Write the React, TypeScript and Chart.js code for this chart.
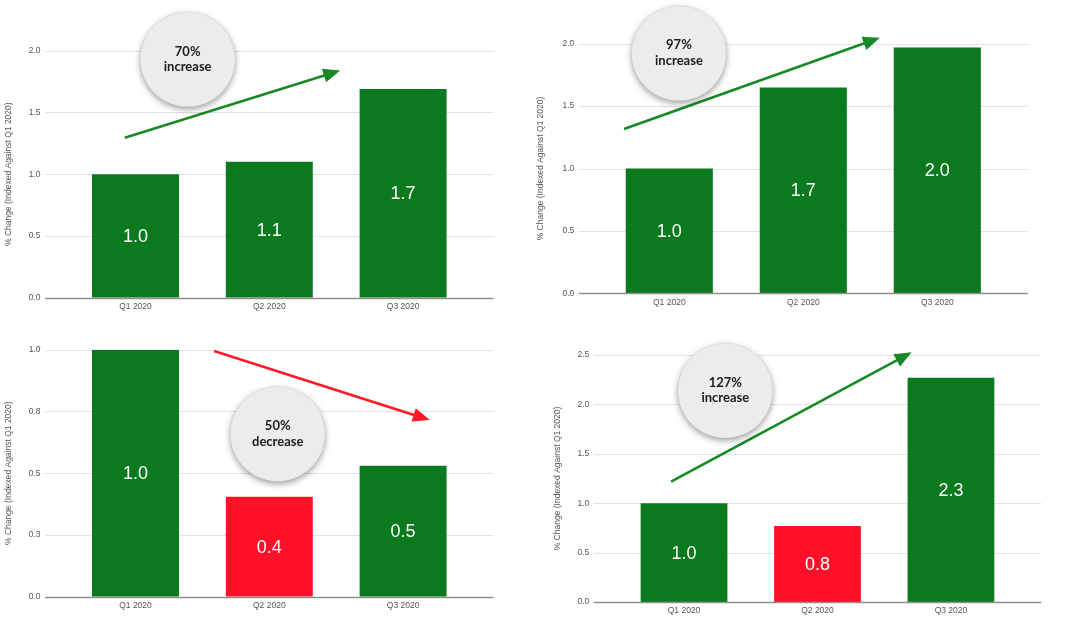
import React, { useEffect, useRef } from 'react';
import { Chart, registerables } from 'chart.js';

Chart.register(...registerables);

// ---------- data ----------
const categories = ['Q1 2020', 'Q2 2020', 'Q3 2020'];

const topLeftValues = [1.0, 1.1, 1.69];
const topLeftLabels = ['1.0', '1.1', '1.7'];
const topLeftTrend = ['up', 'up', 'up'];
const topLeftTicks = [0, 0.5, 1.0, 1.5, 2.0];
const topLeftTickLabels = ['0.0', '0.5', '1.0', '1.5', '2.0'];

const topRightValues = [1.0, 1.65, 1.97];
const topRightLabels = ['1.0', '1.7', '2.0'];
const topRightTrend = ['up', 'up', 'up'];
const topRightTicks = [0, 0.5, 1.0, 1.5, 2.0];
const topRightTickLabels = ['0.0', '0.5', '1.0', '1.5', '2.0'];

const bottomLeftValues = [1.0, 0.405, 0.53];
const bottomLeftLabels = ['1.0', '0.4', '0.5'];
const bottomLeftTrend = ['up', 'down', 'up'];
const bottomLeftTicks = [0, 0.25, 0.5, 0.75, 1.0];
const bottomLeftTickLabels = ['0.0', '0.3', '0.5', '0.8', '1.0'];

const bottomRightValues = [1.0, 0.77, 2.27];
const bottomRightLabels = ['1.0', '0.8', '2.3'];
const bottomRightTrend = ['up', 'down', 'up'];
const bottomRightTicks = [0, 0.5, 1.0, 1.5, 2.0, 2.5];
const bottomRightTickLabels = ['0.0', '0.5', '1.0', '1.5', '2.0', '2.5'];

const axisTitle = '% Change (Indexed Against Q1 2020)';

// ---------- styles ----------
const FONT = '"Liberation Sans", Arial, sans-serif';
const BUBBLE_FONT = 'Lato, "Open Sans", sans-serif';
const GREEN = '#0b7a1f';
const RED = '#ff1029';
const ARROW_GREEN = '#178a26';
const ARROW_RED = '#ff1a2a';
const TICK_COLOR = '#555555';
const CANVAS_W = 540;
const CANVAS_H = 345;

type Panel = {
  values: number[];
  labels: string[];
  trend: string[];
  ticks: number[];
  tickLabels: string[];
  max: number;
  arrow: { from: [number, number]; to: [number, number]; color: string };
  bubble: { at: [number, number]; lines: string[] };
  box: { left: number; top: number };
  area: { top: number; bottom: number; right: number };
  yWidth: number;
};

const panels: Panel[] = [
  {
    values: topLeftValues, labels: topLeftLabels, trend: topLeftTrend,
    ticks: topLeftTicks, tickLabels: topLeftTickLabels, max: 2.0,
    arrow: { from: [-0.08, 1.296], to: [1.53, 1.84], color: ARROW_GREEN },
    bubble: { at: [0.39, 1.93], lines: ['70%', 'increase'] },
    box: { left: 0, top: 0 },
    area: { top: 50.7, bottom: 297.7, right: 470 },
    yWidth: 68.6,
  },
  {
    values: topRightValues, labels: topRightLabels, trend: topRightTrend,
    ticks: topRightTicks, tickLabels: topRightTickLabels, max: 2.0,
    arrow: { from: [-0.338, 1.317], to: [1.572, 2.048], color: ARROW_GREEN },
    bubble: { at: [0.072, 1.923], lines: ['97%', 'increase'] },
    box: { left: 532, top: 0 },
    area: { top: 43.7, bottom: 293.3, right: 472.3 },
    yWidth: 70.3,
  },
  {
    values: bottomLeftValues, labels: bottomLeftLabels, trend: bottomLeftTrend,
    ticks: bottomLeftTicks, tickLabels: bottomLeftTickLabels, max: 1.0,
    arrow: { from: [0.587, 0.995], to: [2.2, 0.715], color: ARROW_RED },
    bubble: { at: [1.063, 0.659], lines: ['50%', 'decrease'] },
    box: { left: 0, top: 315 },
    area: { top: 34.7, bottom: 281.7, right: 470 },
    yWidth: 68.6,
  },
  {
    values: bottomRightValues, labels: bottomRightLabels, trend: bottomRightTrend,
    ticks: bottomRightTicks, tickLabels: bottomRightTickLabels, max: 2.5,
    arrow: { from: [-0.097, 1.218], to: [1.706, 2.527], color: ARROW_GREEN },
    bubble: { at: [0.309, 2.139], lines: ['127%', 'increase'] },
    box: { left: 549, top: 315 },
    area: { top: 40, bottom: 287, right: 468.7 },
    yWidth: 68.3,
  },
];

const X_AXIS_H = 14;

const decorPlugin = {
  id: 'decor',
  beforeDatasetsDraw(chart: any) {
    const { ctx, chartArea, scales } = chart;
    const y = scales.y;
    const ext = 23.5;
    ctx.save();
    y.ticks.forEach((t: any) => {
      if (t.value === 0) return;
      const py = Math.round(y.getPixelForValue(t.value)) + 0.5;
      ctx.beginPath();
      ctx.strokeStyle = '#e2e2e2';
      ctx.lineWidth = 1;
      ctx.moveTo(chartArea.left - ext, py);
      ctx.lineTo(chartArea.right + ext, py);
      ctx.stroke();
    });
    ctx.restore();
  },
  afterDatasetsDraw(chart: any, _args: any, opts: any) {
    const p: Panel = opts.panel;
    if (!p) return;
    const { ctx, chartArea, scales } = chart;
    const xs = scales.x;
    const ys = scales.y;
    const ext = 23.5;
    ctx.save();
    // zero baseline
    const py0 = Math.round(ys.getPixelForValue(0)) + 0.5;
    ctx.beginPath();
    ctx.strokeStyle = '#8f8f8f';
    ctx.lineWidth = 1.5;
    ctx.moveTo(chartArea.left - ext, py0);
    ctx.lineTo(chartArea.right + ext, py0);
    ctx.stroke();

    // value labels
    const meta = chart.getDatasetMeta(0);
    ctx.fillStyle = '#ffffff';
    ctx.font = `18px ${FONT}`;
    ctx.textAlign = 'center';
    ctx.textBaseline = 'middle';
    meta.data.forEach((bar: any, i: number) => {
      const { x, y, base } = bar.getProps(['x', 'y', 'base'], true);
      ctx.fillText(p.labels[i], x, (y + base) / 2 + 1);
    });

    const px = (v: number) => {
      const a = xs.getPixelForValue(0);
      const b = xs.getPixelForValue(1);
      return a + (b - a) * v;
    };

    // arrow
    const x1 = px(p.arrow.from[0]);
    const y1 = ys.getPixelForValue(p.arrow.from[1]);
    const x2 = px(p.arrow.to[0]);
    const y2 = ys.getPixelForValue(p.arrow.to[1]);
    const ang = Math.atan2(y2 - y1, x2 - x1);
    const headLen = 17;
    const headHalf = 7;
    const bx = x2 - Math.cos(ang) * headLen;
    const by = y2 - Math.sin(ang) * headLen;
    ctx.strokeStyle = p.arrow.color;
    ctx.fillStyle = p.arrow.color;
    ctx.lineWidth = 2.6;
    ctx.lineCap = 'butt';
    ctx.beginPath();
    ctx.moveTo(x1, y1);
    ctx.lineTo(bx + Math.cos(ang) * 2, by + Math.sin(ang) * 2);
    ctx.stroke();
    ctx.beginPath();
    ctx.moveTo(x2, y2);
    ctx.lineTo(bx + Math.sin(ang) * headHalf, by - Math.cos(ang) * headHalf);
    ctx.lineTo(bx - Math.sin(ang) * headHalf, by + Math.cos(ang) * headHalf);
    ctx.closePath();
    ctx.fill();

    // bubble
    const cx = px(p.bubble.at[0]);
    const cy = ys.getPixelForValue(p.bubble.at[1]);
    const r = 47.5;
    ctx.save();
    ctx.shadowColor = 'rgba(0,0,0,0.38)';
    ctx.shadowBlur = 6;
    ctx.shadowOffsetY = 2.5;
    ctx.beginPath();
    ctx.arc(cx, cy, r, 0, Math.PI * 2);
    ctx.fillStyle = '#ececec';
    ctx.fill();
    ctx.restore();
    ctx.beginPath();
    ctx.arc(cx, cy, r, 0, Math.PI * 2);
    ctx.strokeStyle = 'rgba(0,0,0,0.06)';
    ctx.lineWidth = 1;
    ctx.stroke();
    ctx.fillStyle = '#1c1c1c';
    ctx.font = `bold 13px ${BUBBLE_FONT}`;
    ctx.textAlign = 'center';
    ctx.textBaseline = 'middle';
    ctx.fillText(p.bubble.lines[0], cx, cy - 8);
    ctx.fillText(p.bubble.lines[1], cx, cy + 7.5);
    ctx.restore();
  },
};

function PanelChart({ panel }: { panel: Panel }) {
  const ref = useRef<HTMLCanvasElement | null>(null);
  useEffect(() => {
    if (!ref.current) return;
    const chart = new Chart(ref.current, {
      type: 'bar',
      data: {
        labels: categories,
        datasets: [
          {
            data: panel.values,
            backgroundColor: panel.trend.map((t) => (t === 'down' ? RED : GREEN)),
            borderWidth: 0,
            barPercentage: 0.65,
            categoryPercentage: 1,
          },
        ],
      },
      options: {
        responsive: false,
        maintainAspectRatio: false,
        animation: false,
        layout: {
          padding: {
            left: 0,
            right: CANVAS_W - panel.area.right,
            top: panel.area.top,
            bottom: CANVAS_H - panel.area.bottom - X_AXIS_H,
          },
        },
        plugins: {
          legend: { display: false },
          tooltip: { enabled: false },
          decor: { panel },
        } as any,
        scales: {
          x: {
            grid: { display: false, drawTicks: false },
            border: { display: false },
            ticks: { padding: 4, color: TICK_COLOR, font: { family: FONT, size: 8.5 }, maxRotation: 0 },
            afterFit: (s: any) => { s.height = X_AXIS_H; },
          },
          y: {
            min: 0,
            max: panel.max,
            grid: { display: false, drawTicks: false },
            border: { display: false },
            afterBuildTicks: (s: any) => { s.ticks = panel.ticks.map((v) => ({ value: v })); },
            ticks: {
              padding: 28,
              color: TICK_COLOR,
              font: { family: FONT, size: 8.5 },
              callback: (_v: any, i: number) => panel.tickLabels[i],
            },
            title: {
              display: true,
              text: axisTitle,
              color: TICK_COLOR,
              font: { family: FONT, size: 8.5 },
              padding: { top: 4, bottom: 4 },
            },
            afterFit: (s: any) => { s.width = panel.yWidth; },
          },
        },
      },
      plugins: [decorPlugin],
    } as any);
    return () => chart.destroy();
  }, [panel]);
  return (
    <canvas
      ref={ref}
      width={CANVAS_W}
      height={CANVAS_H}
      style={{ position: 'absolute', left: panel.box.left, top: panel.box.top, width: CANVAS_W, height: CANVAS_H }}
    />
  );
}

export default function App() {
  return (
    <div style={{ position: 'absolute', left: 0, top: 0, width: 1080, height: 630, background: '#ffffff', overflow: 'hidden' }}>
      {panels.map((p, i) => (
        <PanelChart key={i} panel={p} />
      ))}
    </div>
  );
}
